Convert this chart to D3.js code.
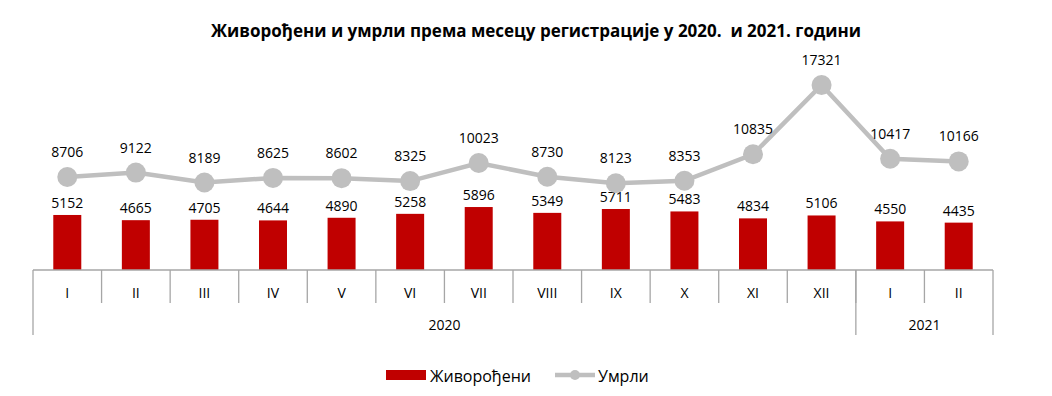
<!DOCTYPE html>
<html><head><meta charset="utf-8">
<script src="https://cdn.jsdelivr.net/npm/d3@7"></script>
<style>body{margin:0;background:#fff}svg{display:block}text{font-family:"Open Sans","Liberation Sans",sans-serif;fill:#000}</style>
</head><body><svg id="c" width="1052" height="396"></svg>
<script>
const months = ["I","II","III","IV","V","VI","VII","VIII","IX","X","XI","XII","I","II"];
const years = [{label:"2020", n:12},{label:"2021", n:2}];
const births = [5152,4665,4705,4644,4890,5258,5896,5349,5711,5483,4834,5106,4550,4435];
const deaths = [8706,9122,8189,8625,8602,8325,10023,8730,8123,8353,10835,17321,10417,10166];
const seriesNames = ["Живорођени","Умрли"];
const title = "Живорођени и умрли према месецу регистрације у 2020.  и 2021. години";

const svg = d3.select("#c");
const L=33, R=993, base=270;
const idx = d3.range(months.length);
const x = d3.scaleBand().domain(idx).range([L,R]).padding(0);
const y = d3.scaleLinear().domain([0,20000]).range([base, base-213.6]);
const bw = 28;

svg.append("text").attr("x",536).attr("y",37).attr("text-anchor","middle")
  .style("white-space","pre")
  .style("font-weight","bold").style("font-size","17px").text(title);

// bars
svg.selectAll("rect.bar").data(births).join("rect")
  .attr("x",(d,i)=>x(i)+x.bandwidth()/2-bw/2).attr("y",d=>y(d))
  .attr("width",bw).attr("height",d=>base-y(d)).attr("fill","#C00000");
svg.selectAll("text.bl").data(births).join("text")
  .attr("x",(d,i)=>x(i)+x.bandwidth()/2).attr("y",d=>y(d)-7)
  .attr("text-anchor","middle").style("font-size","14px").text(d=>d);

// line
const cx = i=>x(i)+x.bandwidth()/2;
svg.append("path").datum(deaths).attr("fill","none").attr("stroke","#BFBFBF").attr("stroke-width",4.5)
  .attr("d", d3.line().x((d,i)=>cx(i)).y(d=>y(d)));
svg.selectAll("circle.pt").data(deaths).join("circle")
  .attr("cx",(d,i)=>cx(i)).attr("cy",d=>y(d)).attr("r",10).attr("fill","#BFBFBF");
svg.selectAll("text.dl").data(deaths).join("text")
  .attr("x",(d,i)=>cx(i)).attr("y",d=>y(d)-20)
  .attr("text-anchor","middle").style("font-size","14px").text(d=>d);

// axis
const ax = svg.append("g").attr("stroke","#A6A6A6").attr("stroke-width",1.3);
ax.append("line").attr("x1",L).attr("x2",R).attr("y1",base).attr("y2",base);
idx.forEach(i=>{ if(i>0) ax.append("line").attr("x1",x(i)).attr("x2",x(i)).attr("y1",base).attr("y2",base+33); });
let acc=0; const bounds=[0];
years.forEach(g=>{acc+=g.n; bounds.push(acc);});
bounds.forEach(b=>{ const xx = b<months.length? x(b): R;
  ax.append("line").attr("x1",xx).attr("x2",xx).attr("y1",base).attr("y2",base+65); });
svg.selectAll("text.m").data(months).join("text")
  .attr("x",(d,i)=>cx(i)).attr("y",base+28).attr("text-anchor","middle").style("font-size","14px").text(d=>d);
years.forEach((g,k)=>{
  const a=x(bounds[k]); const b= bounds[k+1]<months.length? x(bounds[k+1]) : R;
  svg.append("text").attr("x",(a+b)/2).attr("y",base+60).attr("text-anchor","middle").style("font-size","14px").text(g.label);
});

// legend
svg.append("rect").attr("x",386).attr("y",370).attr("width",40).attr("height",10).attr("fill","#C00000");
svg.append("text").attr("x",430).attr("y",382).style("font-size","16px").text(seriesNames[0]);
svg.append("line").attr("x1",555).attr("x2",595).attr("y1",375).attr("y2",375).attr("stroke","#BFBFBF").attr("stroke-width",4.5);
svg.append("circle").attr("cx",575).attr("cy",375).attr("r",5).attr("fill","#BFBFBF");
svg.append("text").attr("x",598).attr("y",382).style("font-size","16px").text(seriesNames[1]);
</script></body></html>
